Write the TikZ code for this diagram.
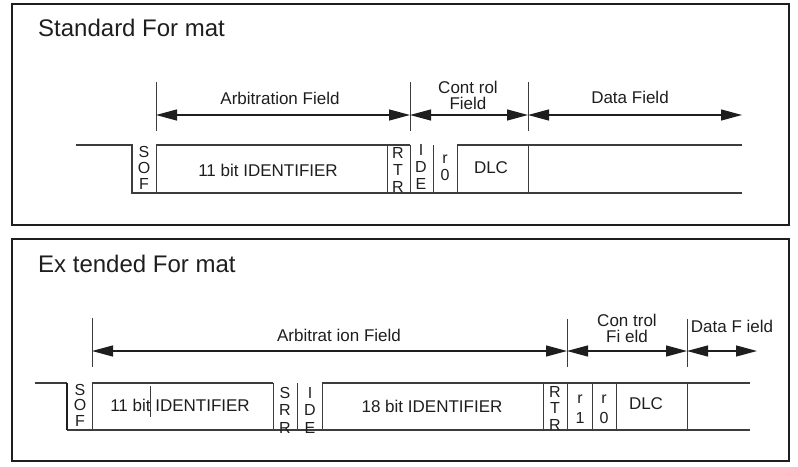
\documentclass[tikz,border=0pt]{standalone}
\usepackage{fontspec}
\setmainfont{Liberation Sans}
\usetikzlibrary{arrows.meta}
\definecolor{ink}{HTML}{1E1E1E}
\definecolor{wire}{HTML}{3C3C3C}

\begin{document}
\begin{tikzpicture}[x=1pt,y=-1pt,
  panel/.style={draw=ink, line width=1.6pt},
  title/.style={font=\fontsize{24}{28}\selectfont, text=ink, anchor=base west, inner sep=0pt},
  lbl/.style={font=\fontsize{17}{16}\selectfont, text=ink, inner sep=0pt, align=center},
  bitlbl/.style={font=\fontsize{16}{16}\selectfont, text=ink, inner sep=0pt, align=center},
  wirel/.style={draw=wire, line width=1.4pt},
  sep/.style={draw=wire, line width=1pt},
  tickl/.style={draw=wire, line width=0.9pt},
  span/.style={draw=ink, line width=1.2pt, >={Triangle[length=21pt,width=11pt]}, <->},
]
\useasboundingbox (0,0) rectangle (798,466);

% ---------------- Standard format ----------------
\draw[panel] (12,4) rectangle (789,225);
\node[title] (stdtitle) at (38,36) {Standard For mat};

% field boundary ticks
\coordinate (sA1) at (156,82);  \coordinate (sA2) at (156,131);
\coordinate (sB1) at (410,82);  \coordinate (sB2) at (410,131);
\coordinate (sC1) at (528,82);  \coordinate (sC2) at (528,131);
\draw[tickl] (sA1) -- (sA2);
\draw[tickl] (sB1) -- (sB2);
\draw[tickl] (sC1) -- (sC2);

% field spans
\coordinate (sarbL) at (156,115); \coordinate (sarbR) at (410,115);
\coordinate (sctlR) at (528,115); \coordinate (sdatR) at (742,115);
\draw[span] (sarbL) -- (sarbR);
\draw[span] (sarbR) -- (sctlR);
\draw[span] (sctlR) -- (sdatR);
\node[lbl] (sarb) at (280,98) {Arbitration Field};
\node[lbl] (sctl) at (468,95) {Cont rol\\Field};
\node[lbl] (sdat) at (630,97) {Data Field};

% bit stream outline
\draw[wirel] (76,145) -- (132,145) -- (132,193) -- (742,193);
\draw[wirel] (156,145) -- (410,145);
\draw[wirel] (457,145) -- (742,145);
\foreach \x in {156,387,410,433,457,528}
  \draw[sep] (\x,145) -- (\x,193);

\node[bitlbl] (ssof) at (144,168) {S\\O\\F};
\node[lbl] (sid) at (268,170) {11 bit IDENTIFIER};
\node[bitlbl, font=\fontsize{16}{17}\selectfont] (srtr) at (398,170) {R\\T\\R};
\node[bitlbl, font=\fontsize{16}{17}\selectfont] (side) at (421,167) {I\\D\\E};
\node[bitlbl, font=\fontsize{16}{17}\selectfont] (sr0) at (445,168) {r\\0};
\node[lbl] (sdlc) at (491,168) {DLC};

% ---------------- Extended format ----------------
\draw[panel] (12,239) rectangle (789,461);
\node[title] (exttitle) at (38,272) {Ex tended For mat};

\coordinate (eA1) at (92,318);  \coordinate (eA2) at (92,367);
\coordinate (eB1) at (567,319); \coordinate (eB2) at (567,367);
\coordinate (eC1) at (687,319); \coordinate (eC2) at (687,367);
\draw[tickl] (eA1) -- (eA2);
\draw[tickl] (eB1) -- (eB2);
\draw[tickl] (eC1) -- (eC2);

\coordinate (earbL) at (92,351);  \coordinate (earbR) at (567,351);
\coordinate (ectlR) at (687,351); \coordinate (edatR) at (757,351);
\draw[span] (earbL) -- (earbR);
\draw[span] (earbR) -- (ectlR);
\draw[span] (ectlR) -- (edatR);
\node[lbl] (earb) at (339,335) {Arbitrat ion Field};
\node[lbl] (ectl) at (627,328) {Con trol\\Fi eld};
\node[lbl] (edat) at (732,326) {Data F ield};

\draw[wirel] (35,383) -- (67,383);
\draw[wirel] (67,430) -- (750,430);
\draw[draw=ink, line width=2pt] (67,383) -- (67,430);
\draw[wirel] (92,383) -- (273,383);
\draw[wirel] (322,383) -- (750,383);
\foreach \x in {92,273,297,322,543,567,592,616,687}
  \draw[sep] (\x,383) -- (\x,430);
\draw[sep, line width=0.8pt] (150,386) -- (150,417);

\node[bitlbl, font=\fontsize{16}{15.5}\selectfont] (esof) at (80,405) {S\\O\\F};
\node[lbl] (eid11) at (180,405) {11 bit IDENTIFIER};
\node[bitlbl, font=\fontsize{16}{17.5}\selectfont] (esrr) at (285,410) {S\\R\\R};
\node[bitlbl, font=\fontsize{16}{17.5}\selectfont] (eide) at (310,410) {I\\D\\E};
\node[lbl] (eid18) at (432,406) {18 bit IDENTIFIER};
\node[bitlbl, font=\fontsize{16}{16.5}\selectfont] (ertr) at (555,408) {R\\T\\R};
\node[bitlbl, font=\fontsize{16}{20}\selectfont] (er1) at (580,409) {r\\1};
\node[bitlbl, font=\fontsize{16}{20}\selectfont] (er0) at (604,409) {r\\0};
\node[lbl] (edlc) at (646,404) {DLC};
\end{tikzpicture}
\end{document}
